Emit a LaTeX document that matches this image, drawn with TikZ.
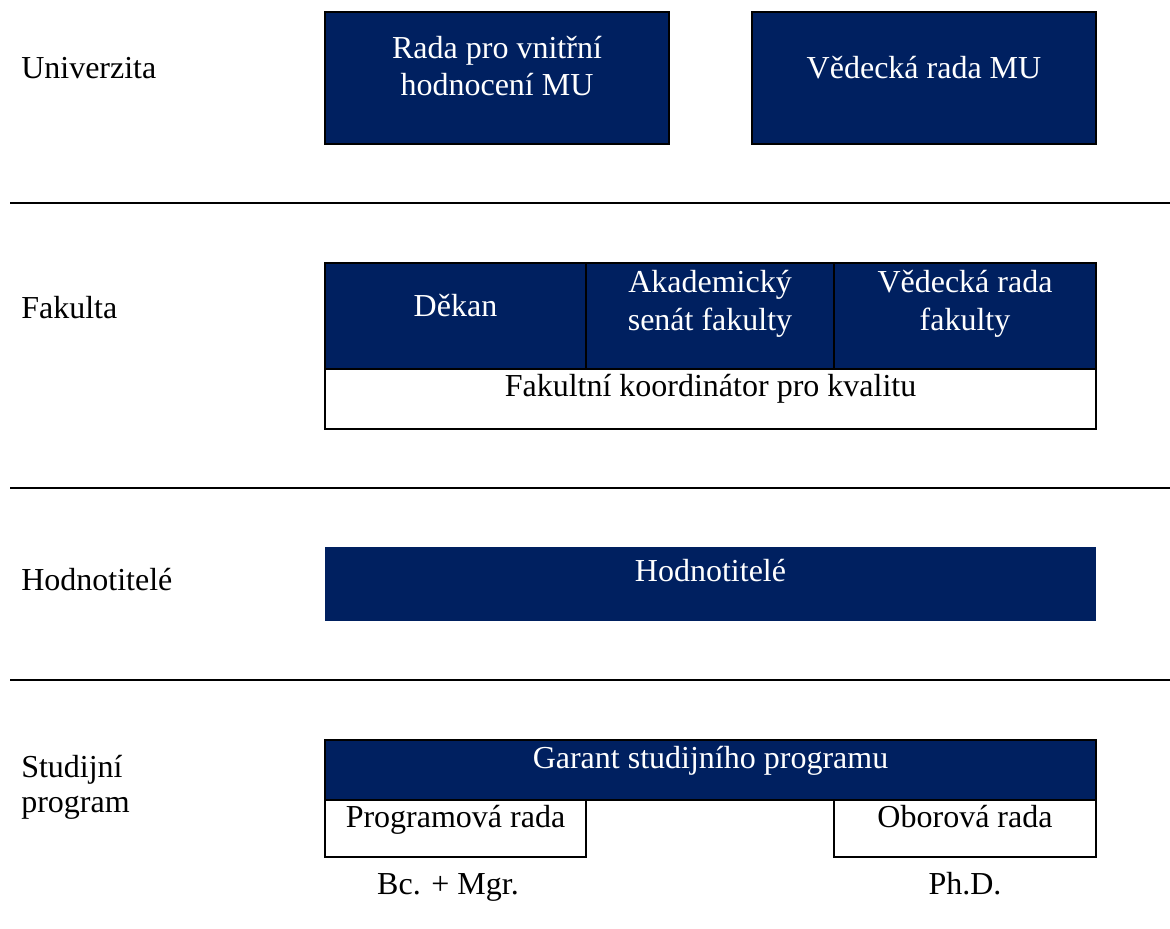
\documentclass[tikz,border=0pt]{standalone}
\usepackage{fontspec}
\setmainfont{Liberation Serif}
\definecolor{navy}{HTML}{002060}
\begin{document}
\begin{tikzpicture}[x=0.75pt,y=-0.75pt,
  txt/.style={inner sep=0pt,font=\fontsize{24}{27.75}\selectfont},
  wtxt/.style={txt,text=white},
  darkbox/.style={fill=navy,draw=black,line width=1.5pt},
  darkplain/.style={fill=navy,draw=none},
  whitebox/.style={fill=white,draw=black,line width=1.5pt},
  sep/.style={draw=black,line width=1.6pt}]
\useasboundingbox[fill=white] (0,0) rectangle (1170,928);

% separators
\coordinate (s1a) at (10,203); \coordinate (s1b) at (1170,203);
\coordinate (s2a) at (10,488); \coordinate (s2b) at (1170,488);
\coordinate (s3a) at (10,680); \coordinate (s3b) at (1170,680);
\draw[sep] (s1a) -- (s1b);
\draw[sep] (s2a) -- (s2b);
\draw[sep] (s3a) -- (s3b);

% row labels
\node[txt,anchor=base west] (lUni) at (21,78.3) {Univerzita};
\node[txt,anchor=base west] (lFak) at (21,318) {Fakulta};
\node[txt,anchor=base west] (lHod) at (21,590) {Hodnotitelé};
\node[txt,anchor=west,align=left,font=\fontsize{24}{26.25}\selectfont] (lStud) at (21,788.4) {\strut Studijní\\\strut program};

% Univerzita
\draw[darkbox] (325,12) rectangle (669,144);
\draw[darkbox] (752,12) rectangle (1096,144);
\node[wtxt,align=center] (rvh) at (497,69.3) {\strut Rada pro vnitřní\\\strut hodnocení MU};
\node[wtxt,anchor=base] (vrmu) at (924,78.3) {Vědecká rada MU};

% Fakulta
\draw[whitebox] (325,263) rectangle (1096,429);
\draw[darkbox] (325,263) rectangle (586,369);
\draw[darkbox] (586,263) rectangle (834,369);
\draw[darkbox] (834,263) rectangle (1096,369);
\node[wtxt,anchor=base] (dek) at (455.5,316.5) {Děkan};
\node[wtxt,align=center,font=\fontsize{24}{28.5}\selectfont] (asf) at (710,303.5) {\strut Akademický\\\strut senát fakulty};
\node[wtxt,align=center,font=\fontsize{24}{28.5}\selectfont] (vrf) at (965,303.5) {\strut Vědecká rada\\\strut fakulty};
\node[txt,anchor=base] (fkk) at (710.5,396) {Fakultní koordinátor pro kvalitu};

% Hodnotitele
\fill[darkplain] (325,547) rectangle (1096,621);
\node[wtxt,anchor=base] (hod) at (710.5,581) {Hodnotitelé};

% Studijni program
\draw[darkbox] (325,740) rectangle (1096,800);
\draw[whitebox] (325,800) rectangle (586,857);
\draw[whitebox] (834,800) rectangle (1096,857);
\node[wtxt,anchor=base] (gar) at (710.5,768.5) {Garant studijního programu};
\node[txt,anchor=base] (prr) at (455.5,827) {Programová rada};
\node[txt,anchor=base] (obr) at (965,827) {Oborová rada};
\node[txt,anchor=base] (bcm) at (448,894) {Bc. + Mgr.};
\node[txt,anchor=base] (phd) at (965,894) {Ph.D.};
\end{tikzpicture}
\end{document}
